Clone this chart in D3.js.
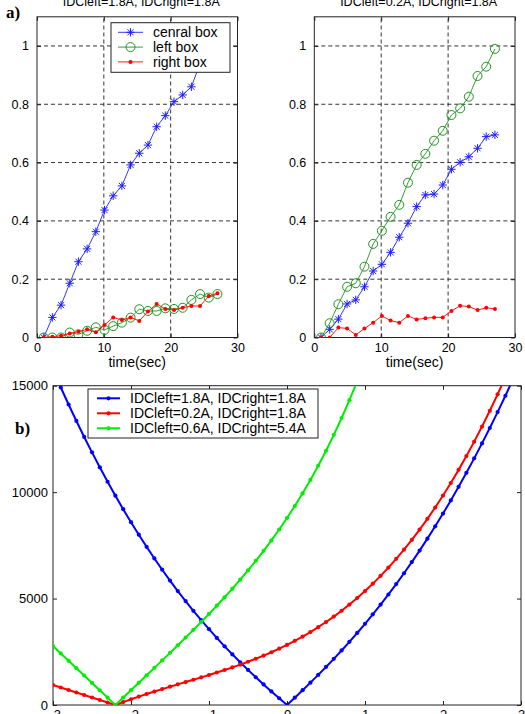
<!DOCTYPE html>
<meta charset="utf-8">
<title>Box signals and IDC sweeps</title>
<style>

body {
  margin: 0;
  background: #fff;
}

text {
  font-family: "Liberation Sans", Arial, sans-serif;
  fill: #000;
}

.grid line {
  stroke: #333;
  stroke-width: 1px;
  stroke-dasharray: 4,3;
}

.frame {
  fill: none;
  stroke: #222;
  stroke-width: 1px;
}

.axis path {
  display: none;
}

.axis line {
  stroke: #222;
}

</style>
<body>
<script src="https://d3js.org/d3.v7.min.js"></script>
<script>

// ---- data, panel a) ----
var timeSec = [1, 2.3, 3.6, 4.9, 6.2, 7.5, 8.8, 10.1, 11.4, 12.7, 14, 15.3, 16.6, 17.9, 19.2, 20.5, 21.8, 23.1, 24.4, 25.7, 27];

var titlesA = ["IDCleft=1.8A, IDCright=1.8A", "IDCleft=0.2A, IDCright=1.8A"];
var boxNames = ["cenral box", "left box", "right box"];

var centralA1 = [0, 0.069, 0.111, 0.186, 0.26, 0.304, 0.363, 0.437, 0.486, 0.52, 0.592, 0.632, 0.66, 0.723, 0.761, 0.809, 0.832, 0.86, 0.94, 0.99, 1.04];
var leftA1    = [0, 0, 0, 0.017, 0.011, 0.023, 0.035, 0.026, 0.039, 0.051, 0.068, 0.097, 0.091, 0.091, 0.1, 0.098, 0.102, 0.129, 0.149, 0.137, 0.149];
var rightA1   = [0, 0.003, 0.006, 0.014, 0.02, 0.028, 0.018, 0.043, 0.069, 0.06, 0.069, 0.057, 0.089, 0.115, 0.098, 0.094, 0.102, 0.108, 0.108, 0.142, 0.152];

var centralA2 = [0, 0.028, 0.063, 0.115, 0.129, 0.174, 0.228, 0.251, 0.292, 0.344, 0.392, 0.449, 0.489, 0.492, 0.523, 0.577, 0.601, 0.62, 0.649, 0.689, 0.695];
var leftA2    = [0, 0.049, 0.114, 0.174, 0.186, 0.243, 0.321, 0.366, 0.414, 0.455, 0.531, 0.592, 0.63, 0.675, 0.709, 0.763, 0.786, 0.826, 0.897, 0.929, 0.99];
var rightA2   = [0, 0, 0.034, 0.031, 0.009, 0.031, 0.051, 0.074, 0.058, 0.051, 0.074, 0.062, 0.066, 0.069, 0.069, 0.091, 0.109, 0.106, 0.094, 0.102, 0.098];

var xTicksA = [0, 10, 20, 30];
var yTicksA = [0, 0.2, 0.4, 0.6, 0.8, 1];

// ---- data, panel b) ----
var sweepX = [-3, -2.9, -2.8, -2.7, -2.6, -2.5, -2.4, -2.3, -2.2, -2.1, -2, -1.9, -1.8, -1.7, -1.6, -1.5, -1.4, -1.3, -1.2, -1.1, -1,
  -0.9, -0.8, -0.7, -0.6, -0.5, -0.4, -0.3, -0.2, -0.1, 0, 0.1, 0.2, 0.3, 0.4, 0.5, 0.6, 0.7, 0.8, 0.9, 1,
  1.1, 1.2, 1.3, 1.4, 1.5, 1.6, 1.7, 1.8, 1.9, 2, 2.1, 2.2, 2.3, 2.4, 2.5, 2.6, 2.7, 2.8, 2.9, 3];

var legendB = ["IDCleft=1.8A, IDCright=1.8A", "IDCleft=0.2A, IDCright=1.8A", "IDCleft=0.6A, IDCright=5.4A"];

var sweepBlue = [15740, 14915, 14116, 13343, 12593, 11868, 11166, 10488, 9834, 9201, 8590, 8000, 7431, 6884, 6355, 5845, 5353, 4880, 4424, 3984, 3560,
  3151, 2756, 2376, 2007, 1650, 1304, 967, 639, 317, 0, 345, 695, 1050, 1414, 1787, 2169, 2562, 2967, 3384, 3814,
  4258, 4717, 5192, 5682, 6190, 6714, 7255, 7815, 8394, 8992, 9610, 10248, 10906, 11586, 12289, 13013, 13759, 14528, 15321, 16137];

var sweepRed = [940, 823, 705, 588, 470, 353, 235, 118, 0, 138, 270, 395, 516, 633, 747, 859, 969, 1078, 1187, 1298, 1410,
  1526, 1645, 1768, 1896, 2031, 2172, 2321, 2479, 2647, 2824, 3013, 3214, 3428, 3655, 3897, 4154, 4428, 4718, 5026, 5353,
  5700, 6067, 6455, 6866, 7299, 7756, 8239, 8746, 9279, 9840, 10429, 11046, 11694, 12372, 13081, 13821, 14595, 15405, 16248, 17127];

var sweepGreen = [2768, 2422, 2076, 1730, 1384, 1038, 692, 346, 0, 348, 697, 1045, 1394, 1745, 2096, 2449, 2806, 3166, 3531, 3901, 4279,
  4665, 5060, 5467, 5886, 6320, 6771, 7241, 7731, 8244, 8783, 9349, 9945, 10575, 11240, 11944, 12690, 13482, 14321, 15211, 16158];

var xTicksB = [-3, -2, -1, 0, 1, 2, 3];
var yTicksB = [0, 5000, 10000, 15000];

// ---- drawing ----
var svg = d3.select("body").append("svg")
    .attr("width", 525)
    .attr("height", 714);

var blueA = "#1f1fff", greenA = "#1d951d", redA = "#ff0000";

function star(r) {
  var a = r * 0.72;
  return "M" + -r + ",0L" + r + ",0M0," + -r + "L0," + r +
    "M" + -a + "," + -a + "L" + a + "," + a + "M" + -a + "," + a + "L" + a + "," + -a;
}

function drawMarker(sel, kind, color) {
  if (kind == "star") {
    sel.append("path").attr("d", star(4.2)).attr("fill", "none").attr("stroke", color).attr("stroke-width", 1);
  } else if (kind == "circle") {
    sel.append("circle").attr("r", 4.5).attr("fill", "none").attr("stroke", color).attr("stroke-width", 1);
  } else {
    sel.append("circle").attr("r", 2).attr("fill", color);
  }
}

function panelA(id, x0, x1, title, series) {
  var x = d3.scaleLinear().domain([0, 30]).range([x0, x1]),
      y = d3.scaleLinear().domain([0, 1.1]).range([337.5, 16.8]);

  var g = svg.append("g");

  g.append("clipPath").attr("id", id)
    .append("rect").attr("x", x0).attr("y", y(1.1)).attr("width", x1 - x0).attr("height", y(0) - y(1.1));

  var grid = g.append("g").attr("class", "grid");
  grid.selectAll(".gx").data([10, 20]).enter().append("line")
      .attr("x1", x).attr("x2", x).attr("y1", y(0)).attr("y2", y(1.1));
  grid.selectAll(".gy").data(yTicksA.slice(1)).enter().append("line")
      .attr("x1", x0).attr("x2", x1).attr("y1", y).attr("y2", y);

  g.append("g").attr("class", "axis").attr("transform", "translate(0," + y(0) + ")")
      .call(d3.axisBottom(x).tickValues(xTicksA).tickSizeInner(-4).tickSizeOuter(0).tickPadding(6).tickFormat(d3.format("d")))
      .selectAll("text").style("font-size", "12.5px");
  g.append("g").attr("class", "axis").attr("transform", "translate(0," + y(1.1) + ")")
      .call(d3.axisTop(x).tickValues(xTicksA).tickSizeInner(-4).tickSizeOuter(0).tickFormat(""));
  g.append("g").attr("class", "axis").attr("transform", "translate(" + x0 + ",0)")
      .call(d3.axisLeft(y).tickValues(yTicksA).tickSizeInner(-4).tickSizeOuter(0).tickPadding(8).tickFormat(d3.format("")))
      .selectAll("text").style("font-size", "12.5px");
  g.append("g").attr("class", "axis").attr("transform", "translate(" + x1 + ",0)")
      .call(d3.axisRight(y).tickValues(yTicksA).tickSizeInner(-4).tickSizeOuter(0).tickFormat(""));
  g.selectAll(".axis text").attr("font-family", null);

  g.append("rect").attr("class", "frame")
      .attr("x", x0).attr("y", y(1.1)).attr("width", x1 - x0).attr("height", y(0) - y(1.1));

  var line = d3.line().x(function(d) { return x(d[0]); }).y(function(d) { return y(d[1]); });
  var plot = g.append("g").attr("clip-path", "url(#" + id + ")");

  series.forEach(function(s) {
    var pts = d3.zip(timeSec, s.values);
    plot.append("path").datum(pts).attr("d", line)
        .attr("fill", "none").attr("stroke", s.color).attr("stroke-width", 0.9);
    plot.selectAll(null).data(pts).enter().append("g")
        .attr("transform", function(d) { return "translate(" + x(d[0]) + "," + y(d[1]) + ")"; })
        .each(function() { drawMarker(d3.select(this), s.marker, s.color); });
  });

  g.append("text").attr("x", (x0 + x1) / 2 + 4).attr("y", 6)
      .attr("text-anchor", "middle").style("font-size", "12.5px").text(title);
  g.append("text").attr("x", (x0 + x1) / 2).attr("y", 367)
      .attr("text-anchor", "middle").style("font-size", "14px").text("time(sec)");

  return g;
}

var gA1 = panelA("clipA1", 37, 237.5, titlesA[0], [
  {values: centralA1, color: blueA, marker: "star"},
  {values: leftA1, color: greenA, marker: "circle"},
  {values: rightA1, color: redA, marker: "dot"}
]);

panelA("clipA2", 314.3, 515, titlesA[1], [
  {values: centralA2, color: blueA, marker: "star"},
  {values: leftA2, color: greenA, marker: "circle"},
  {values: rightA2, color: redA, marker: "dot"}
]);

// legend of panel a)
var legA = gA1.append("g");
legA.append("rect").attr("x", 111).attr("y", 22.7).attr("width", 119).attr("height", 49.6)
    .attr("fill", "#fff").attr("stroke", "#222");
[{c: blueA, m: "star"}, {c: greenA, m: "circle"}, {c: redA, m: "dot"}].forEach(function(e, i) {
  var yy = 32.3 + i * 14.8;
  legA.append("line").attr("x1", 118).attr("x2", 143).attr("y1", yy).attr("y2", yy)
      .attr("stroke", e.c).attr("stroke-width", 0.9);
  drawMarker(legA.append("g").attr("transform", "translate(130.5," + yy + ")"), e.m, e.c);
  legA.append("text").attr("x", 153).attr("y", yy + 5).style("font-size", "14px").text(boxNames[i]);
});

svg.append("text").attr("x", 6).attr("y", 18)
    .style("font-family", "'Liberation Serif', 'Times New Roman', serif")
    .style("font-weight", "bold").style("font-size", "17px").text("a)");

// ---- panel b) ----
var xB = d3.scaleLinear().domain([-3, 3]).range([53, 521]),
    yB = d3.scaleLinear().domain([0, 15000]).range([705, 385.7]);

var gB = svg.append("g");
gB.append("clipPath").attr("id", "clipB")
  .append("rect").attr("x", 53).attr("y", yB(15000)).attr("width", 468).attr("height", yB(0) - yB(15000));

gB.append("g").attr("class", "axis").attr("transform", "translate(0," + yB(0) + ")")
    .call(d3.axisBottom(xB).tickValues(xTicksB).tickSizeInner(-4).tickSizeOuter(0).tickPadding(5).tickFormat(d3.format("d")))
    .selectAll("text").attr("font-family", null).style("font-size", "13px");
gB.append("g").attr("class", "axis").attr("transform", "translate(0," + yB(15000) + ")")
    .call(d3.axisTop(xB).tickValues(xTicksB).tickSizeInner(-4).tickSizeOuter(0).tickFormat(""));
gB.append("g").attr("class", "axis").attr("transform", "translate(53,0)")
    .call(d3.axisLeft(yB).tickValues(yTicksB).tickSizeInner(-4).tickSizeOuter(0).tickPadding(5).tickFormat(d3.format("d")))
    .selectAll("text").attr("font-family", null).style("font-size", "13px");
gB.append("g").attr("class", "axis").attr("transform", "translate(521,0)")
    .call(d3.axisRight(yB).tickValues(yTicksB).tickSizeInner(-4).tickSizeOuter(0).tickFormat(""));

gB.append("rect").attr("class", "frame")
    .attr("x", 53).attr("y", yB(15000)).attr("width", 468).attr("height", yB(0) - yB(15000));

var lineB = d3.line().x(function(d) { return xB(d[0]); }).y(function(d) { return yB(d[1]); });
var plotB = gB.append("g").attr("clip-path", "url(#clipB)");
var colorsB = ["#0000ff", "#ff0000", "#00ee00"];

[sweepBlue, sweepRed, sweepGreen].forEach(function(vals, i) {
  var pts = d3.zip(sweepX, vals);
  plotB.append("path").datum(pts).attr("d", lineB)
      .attr("fill", "none").attr("stroke", colorsB[i]).attr("stroke-width", 2);
  plotB.selectAll(null).data(pts).enter().append("circle")
      .attr("cx", function(d) { return xB(d[0]); })
      .attr("cy", function(d) { return yB(d[1]); })
      .attr("r", 2.1).attr("fill", colorsB[i]);
});

var legB = gB.append("g");
legB.append("rect").attr("x", 88).attr("y", 389).attr("width", 230).attr("height", 49)
    .attr("fill", "#fff").attr("stroke", "#222");
legendB.forEach(function(name, i) {
  var yy = 398.3 + i * 15;
  legB.append("line").attr("x1", 97).attr("x2", 120).attr("y1", yy).attr("y2", yy)
      .attr("stroke", colorsB[i]).attr("stroke-width", 2);
  legB.append("circle").attr("cx", 108.5).attr("cy", yy).attr("r", 2.1).attr("fill", colorsB[i]);
  legB.append("text").attr("x", 130).attr("y", yy + 5).style("font-size", "14px").text(name);
});

svg.append("text").attr("x", 15).attr("y", 434)
    .style("font-family", "'Liberation Serif', 'Times New Roman', serif")
    .style("font-weight", "bold").style("font-size", "17px").text("b)");

</script>
